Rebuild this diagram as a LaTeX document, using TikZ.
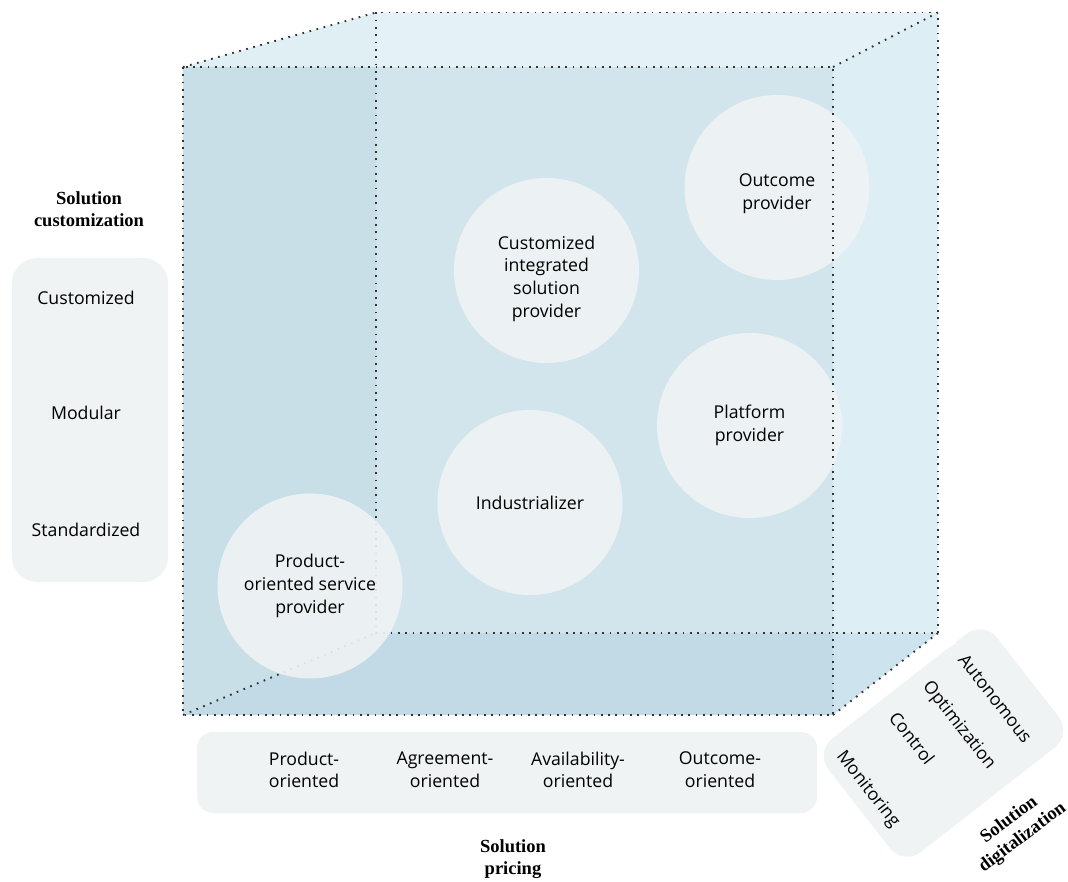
\documentclass[tikz,border=0pt]{standalone}
\usepackage{fontspec}
\setmainfont{Open Sans}
\newfontfamily\headfont{Liberation Serif}
\usetikzlibrary{positioning}

\definecolor{panelgray}{HTML}{EFF3F4}
\definecolor{faceinner}{HTML}{D3E5EC}
\definecolor{faceleft}{HTML}{C8DFE7}
\definecolor{facebottom}{HTML}{C1DAE5}
\definecolor{facetopleft}{HTML}{E0EFF4}
\definecolor{facetop}{HTML}{E4F1F7}
\definecolor{faceright}{HTML}{DDEEF5}
\definecolor{facecorner}{HTML}{CDE4EF}
\definecolor{edgegray}{HTML}{333333}

\tikzset{
  cubeedge/.style={line width=1.9pt, draw=edgegray, dash pattern=on 1.7pt off 5.6pt},
  roleball/.style={circle, fill=panelgray, fill opacity=0.9, minimum size=185pt, inner sep=0pt},
  roletext/.style={inner sep=0pt, align=center, font=\fontsize{17.7}{22.7}\selectfont},
  levelitem/.style={inner sep=0pt, align=center, font=\fontsize{17.7}{22.7}\selectfont},
  axisname/.style={inner sep=0pt, align=center, font=\headfont\bfseries\fontsize{18.5}{22}\selectfont}
}

\begin{document}
\begin{tikzpicture}[x=1pt,y=-1pt]
                    \useasboundingbox (0,0) rectangle (1068,882);%

                    % Panel of the digitalization levels
                    \node [rotate=-52, fill=panelgray, rounded corners=22pt, minimum width=144pt,
                      minimum height=214pt] (digipanel) at (943.5,743) {};%

                    % White margin between cube corner and panel
                    \fill [white] (833,715) -- (857,715) -- (857,702) -- (955,644) -- (955,633) -- (938,633) -- cycle;%

                    % Faces of the cube
                    \fill [facetopleft] (183,67) -- (376,12.5) -- (376,67) -- cycle;%
                    \fill [facetop] (376,12.5) -- (938,12.5) -- (833,67) -- (376,67) -- cycle;%
                    \fill [faceright] (833,67) -- (938,12.5) -- (938,633) -- (833,633) -- cycle;%
                    \fill [facecorner] (833,633) -- (938,633) -- (833,715) -- cycle;%
                    \fill [faceinner] (376,67) rectangle (833,633);%
                    \fill [faceleft] (183,67) -- (376,67) -- (376,633) -- (183,715) -- cycle;%
                    \fill [facebottom] (183,715) -- (376,633) -- (833,633) -- (833,715) -- cycle;%

                    % Drawing back edges of the cube
                    \draw [cubeedge] (376,12.5) rectangle (938,633);%
                    \draw [cubeedge] (183,67) -- (376,12.5);%
                    \draw [cubeedge] (833,67) -- (938,12.5);%
                    \draw [cubeedge] (833,715) -- (938,633);%
                    \draw [cubeedge] (183,715) -- (376,633);%

                    % Solution provider roles
                    \node [roleball] (cisp) at (546.5,270.5) {};%
                    \node [roleball] (outcome) at (777,187.5) {};%
                    \node [roleball] (platform) at (749.5,425.5) {};%
                    \node [roleball] (industrializer) at (530,502.5) {};%
                    \node [roleball] (posp) at (310,586) {};%
                    \node [roletext, yshift=-8pt] (cisptext) at (cisp) {Customized\\integrated\\solution\\provider};%
                    \node [roletext, yshift=-6pt] (outcometext) at (outcome) {Outcome\\provider};%
                    \node [roletext] (platformtext) at (platform) {Platform\\provider};%
                    \node [roletext] (industrializertext) at (industrializer) {Industrializer};%
                    \node [roletext] (posptext) at (posp) {Product-\\oriented service\\provider};%

                    % Drawing front face of the cube
                    \draw [cubeedge] (183,67) rectangle (833,715);%

                    % Panel of the customization levels
                    \fill [panelgray, rounded corners=25pt] (12,258) rectangle (168,582);%
                    \node [levelitem] (customized) at (86,298) {Customized};%
                    \node [levelitem] (modular) at (86,413) {Modular};%
                    \node [levelitem] (standardized) at (86,530) {Standardized};%
                    \node [axisname] (custaxis) at (89,209) {Solution\\customization};%

                    % Panel of the pricing levels
                    \fill [panelgray, rounded corners=16pt] (197,732) rectangle (817,813);%
                    \node [levelitem] (prodpricing) at (304,770) {Product-\\oriented};%
                    \node [levelitem] (agreepricing) at (445,770) {Agreement-\\oriented};%
                    \node [levelitem] (availpricing) at (578,770) {Availability-\\oriented};%
                    \node [levelitem] (outpricing) at (720,770) {Outcome-\\oriented};%
                    \node [axisname] (priceaxis) at (513,859) {Solution\\pricing};%

                    % Digitalization levels, set along the panel
                    \begin{scope}[shift={(943.5,743)}, rotate=-52]
                    \node [levelitem, rotate=-52, anchor=north west] (autonomous) at (-57,-75) {Autonomous};%
                    \node [levelitem, rotate=-52, anchor=north west] (optimization) at (-58,-31.4) {Optimization};%
                    \node [levelitem, rotate=-52, anchor=north west] (control) at (-54,14.6) {Control};%
                    \node [levelitem, rotate=-52, anchor=north west] (monitoring) at (-56,79.5) {Monitoring};%
                    \end{scope}
                    \node [axisname, rotate=37] (digiaxis) at (1016,829) {Solution\\digitalization};%
                \end{tikzpicture}
\end{document}
